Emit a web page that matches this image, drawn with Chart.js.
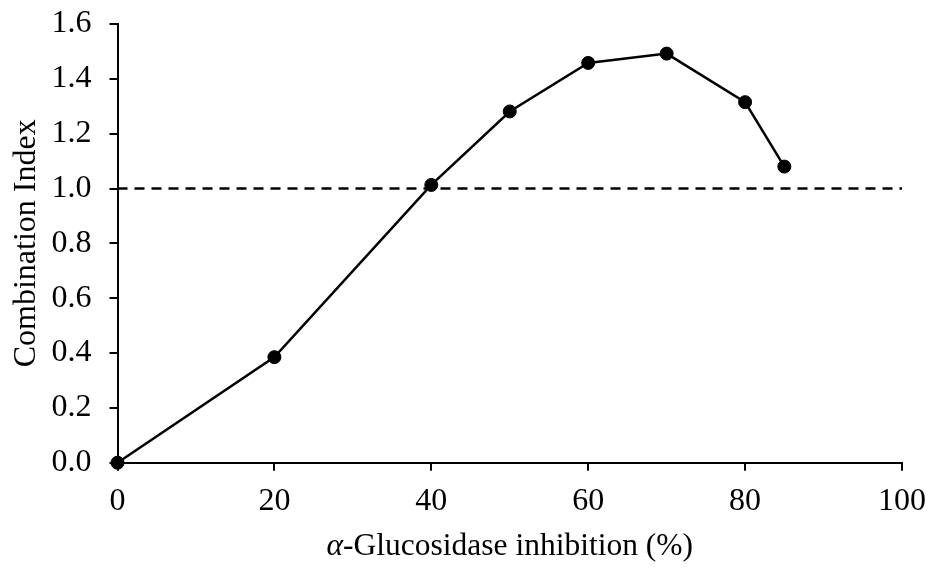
<!DOCTYPE html>
<html>
<head>
<meta charset="utf-8">
<script src="https://cdn.jsdelivr.net/npm/chart.js@4.4.0/dist/chart.umd.min.js"></script>
<style>
html,body{margin:0;padding:0;background:#fff;}
#wrap{width:933px;height:578px;position:relative;}
</style>
</head>
<body>
<div id="wrap"><canvas id="c" width="933" height="578"></canvas></div>
<script>
// Data
const inhibition = [0, 20, 40, 50, 60, 70, 80, 85];
const combinationIndex = [0.0, 0.385, 1.013, 1.281, 1.458, 1.492, 1.315, 1.080];
const refX = [0, 100];
const refY = [1.0, 1.0];
const xTicks = [0, 20, 40, 60, 80, 100];
const yTicks = [0.0, 0.2, 0.4, 0.6, 0.8, 1.0, 1.2, 1.4, 1.6];
const xTitle = ['α', '-Glucosidase inhibition (%)'];
const yTitle = 'Combination Index';

const FONT = '"Liberation Serif", "Times New Roman", serif';
const FS = 32;
const FT = 31.5;

const xTitlePlugin = {
  id: 'xTitlePlugin',
  afterDraw(chart) {
    const ctx = chart.ctx;
    const area = chart.chartArea;
    const cx = (area.left + area.right) / 2;
    const y = 547;
    ctx.save();
    ctx.fillStyle = '#000';
    ctx.textBaseline = 'middle';
    ctx.font = 'italic ' + FT + 'px ' + FONT;
    const w1 = ctx.measureText(xTitle[0]).width;
    ctx.font = FT + 'px ' + FONT;
    const w2 = ctx.measureText(xTitle[1]).width;
    let x = cx - (w1 + w2) / 2;
    ctx.textAlign = 'left';
    ctx.font = 'italic ' + FT + 'px ' + FONT;
    ctx.fillText(xTitle[0], x, y);
    ctx.font = FT + 'px ' + FONT;
    ctx.fillText(xTitle[1], x + w1, y);
    ctx.restore();
  }
};

new Chart(document.getElementById('c'), {
  type: 'scatter',
  data: {
    datasets: [
      {
        label: 'CI',
        data: inhibition.map((x, i) => ({x: x, y: combinationIndex[i]})),
        showLine: true,
        borderColor: '#000',
        backgroundColor: '#000',
        borderWidth: 2.5,
        pointRadius: 6.5,
        pointBorderWidth: 1,
        pointBorderColor: '#000',
        pointBackgroundColor: '#000',
        clip: false,
        order: 1
      },
      {
        label: 'ref',
        data: refX.map((x, i) => ({x: x, y: refY[i]})),
        showLine: true,
        borderColor: '#000',
        borderWidth: 2.5,
        borderDash: [10, 7],
        pointRadius: 0,
        clip: false,
        order: 2
      }
    ]
  },
  options: {
    responsive: false,
    animation: false,
    devicePixelRatio: 1,
    layout: { padding: { left: 0, right: 31, top: 24, bottom: 0 } },
    plugins: { legend: { display: false }, tooltip: { enabled: false } },
    scales: {
      x: {
        type: 'linear',
        min: 0, max: 100,
        afterFit(s) { s.height = 115.3; s.paddingLeft = 0; s.paddingRight = 0; },
        afterBuildTicks(s) { s.ticks = xTicks.map(v => ({value: v})); },
        ticks: {
          color: '#000',
          font: { family: FONT, size: FS },
          padding: 12,
          maxRotation: 0,
          callback: v => String(v)
        },
        grid: { drawOnChartArea: false, drawTicks: true, tickLength: 8, color: '#000', lineWidth: 2 },
        border: { display: true, color: '#000', width: 2 },
        title: { display: true, text: xTitle.join(''), color: 'rgba(0,0,0,0)', font: { family: FONT, size: FT } }
      },
      y: {
        type: 'linear',
        min: 0, max: 1.6,
        afterFit(s) { s.width = 117.5; s.paddingTop = 0; s.paddingBottom = 0; },
        afterBuildTicks(s) { s.ticks = yTicks.map(v => ({value: v})); },
        ticks: {
          color: '#000',
          font: { family: FONT, size: FS },
          padding: 18,
          callback: v => Number(v).toFixed(1)
        },
        grid: { drawOnChartArea: false, drawTicks: true, tickLength: 8, color: '#000', lineWidth: 2 },
        border: { display: true, color: '#000', width: 2 },
        title: { display: true, text: yTitle, color: '#000', font: { family: FONT, size: FS }, padding: { top: 7, bottom: 0 } }
      }
    }
  },
  plugins: [xTitlePlugin]
});
</script>
</body>
</html>
